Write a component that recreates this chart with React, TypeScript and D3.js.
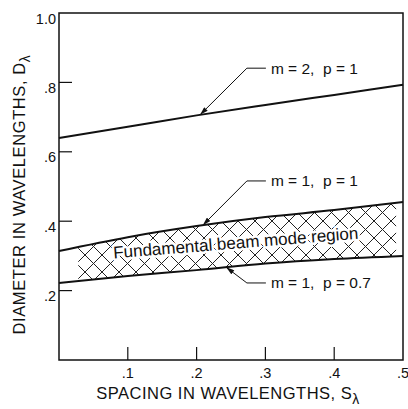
import React from 'react';
import * as d3 from 'd3';

// ---- data ----
const spacing = [0, 0.1, 0.2, 0.3, 0.4, 0.5];
const m2p1 = [0.64, 0.672, 0.705, 0.735, 0.764, 0.793];
const m1p1 = [0.314, 0.354, 0.386, 0.412, 0.432, 0.455];
const m1p07 = [0.222, 0.242, 0.259, 0.278, 0.291, 0.3];
const xTicks = [0.1, 0.2, 0.3, 0.4, 0.5];
const xTickLabels = ['.1', '.2', '.3', '.4', '.5'];
const yTicks = [0.2, 0.4, 0.6, 0.8, 1.0];
const yTickLabels = ['.2', '.4', '.6', '.8', '1.0'];
const regionStart = 0.028;
const regionEnd = 0.49;
const regionLabel = 'Fundamental beam mode region';
const curveNames = ['m2p1', 'm1p1', 'm1p07'];
const curveValues = [m2p1, m1p1, m1p07];
const annotationTexts = ['m = 2,  p = 1', 'm = 1,  p = 1', 'm = 1,  p = 0.7'];
const annotationTipS = [0.205, 0.209, 0.243];
const annotationLabelS = [0.308, 0.308, 0.308];
const annotationLabelD = [0.841, 0.516, 0.222];

const W = 408;
const H = 409;
const left = 59, right = 403, top = 13, bottom = 360;
const FONT = '"Liberation Sans", Arial, sans-serif';

export default function App() {
  const x = d3.scaleLinear().domain([0, 0.5]).range([left, right]);
  const y = d3.scaleLinear().domain([0, 1]).range([bottom, top]);

  const line = d3
    .line<number>()
    .x((_, i) => x(spacing[i]))
    .y((d) => y(d))
    .curve(d3.curveMonotoneX);

  const area = d3
    .area<number>()
    .x((_, i) => x(spacing[i]))
    .y0((_, i) => y(m1p07[i]))
    .y1((d) => y(d))
    .curve(d3.curveMonotoneX);

  const interp = (vals: number[], s: number) => {
    const f = d3.scaleLinear().domain(spacing).range(vals);
    return f(s);
  };

  const annotations = annotationTexts.map((t, i) => {
    const tipX = x(annotationTipS[i]);
    const tipY = y(interp(curveValues[i], annotationTipS[i]));
    const lx = x(annotationLabelS[i]);
    const ly = y(annotationLabelD[i]);
    return { t, tipX, tipY, lx, ly, key: curveNames[i] };
  });

  const xMid = (x(regionStart) + x(regionEnd)) / 2 - 1;
  const sMid = x.invert(xMid);
  const yMid = (y(interp(m1p1, sMid)) + y(interp(m1p07, sMid))) / 2;

  return (
    <svg
      width={W}
      height={H}
      style={{ position: 'absolute', left: 0, top: 0, background: '#fff' }}
      fontFamily={FONT}
    >
      <defs>
        <pattern id="hatch" patternUnits="userSpaceOnUse" width={17} height={17}>
          <path d="M0,0 L17,17 M17,0 L0,17" stroke="#222" strokeWidth={1} />
        </pattern>
        <clipPath id="regionClip">
          <rect x={x(regionStart)} y={top} width={x(regionEnd) - x(regionStart)} height={bottom - top} />
        </clipPath>
        <marker
          id="arrow"
          viewBox="0 0 10 6"
          refX={10}
          refY={3}
          markerWidth={9}
          markerHeight={5}
          markerUnits="userSpaceOnUse"
          orient="auto"
        >
          <path d="M0,0 L10,3 L0,6 z" fill="#111" />
        </marker>
      </defs>

      {/* hatched region */}
      <path d={area(m1p1) || ''} fill="url(#hatch)" clipPath="url(#regionClip)" />

      {/* frame */}
      <rect x={left} y={top} width={right - left} height={bottom - top} fill="none" stroke="#111" strokeWidth={1.5} />

      {/* ticks */}
      {yTicks.slice(0, 4).map((v) => (
        <line key={'yt' + v} x1={left} x2={left + 13} y1={y(v)} y2={y(v)} stroke="#111" strokeWidth={1.2} />
      ))}
      {xTicks.slice(0, 4).map((v) => (
        <line key={'xt' + v} x1={x(v)} x2={x(v)} y1={bottom} y2={bottom - 13} stroke="#111" strokeWidth={1.2} />
      ))}

      {/* tick labels */}
      {yTicks.map((v, i) => (
        <text key={'yl' + v} x={left - 3} y={y(v) + 10.5} textAnchor="end" fontSize={14.5} fill="#111">
          {yTickLabels[i]}
        </text>
      ))}
      {xTicks.map((v, i) => (
        <text key={'xl' + v} x={x(v)} y={bottom + 18} textAnchor="middle" fontSize={14.5} fill="#111">
          {xTickLabels[i]}
        </text>
      ))}

      {/* axis titles */}
      <text x={228} y={399} textAnchor="middle" fontSize={16.5} letterSpacing={0.5} fill="#111">
        SPACING IN WAVELENGTHS, S
        <tspan fontSize={14} dy={5}>λ</tspan>
      </text>
      <text
        transform={`translate(25,${(top + bottom) / 2 + 8}) rotate(-90)`}
        textAnchor="middle"
        fontSize={16.5}
        letterSpacing={0.6}
        fill="#111"
      >
        DIAMETER IN WAVELENGTHS, D
        <tspan fontSize={14} dy={5}>λ</tspan>
      </text>

      {/* curves */}
      {curveValues.map((vals, i) => (
        <path key={curveNames[i]} d={line(vals) || ''} fill="none" stroke="#111" strokeWidth={2} />
      ))}

      {/* region label */}
      <text
        transform={`translate(${xMid},${yMid + 5}) rotate(-4.6)`}
        textAnchor="middle"
        fontSize={17}
        fill="#111"
        stroke="#fff"
        strokeWidth={5}
        paintOrder="stroke"
        strokeLinejoin="round"
      >
        {regionLabel}
      </text>

      {/* annotations */}
      {annotations.map((a) => (
        <g key={a.key}>
          <path
            d={`M${a.lx - 5},${a.ly} L${a.lx - 24},${a.ly} L${a.tipX},${a.tipY}`}
            fill="none"
            stroke="#111"
            strokeWidth={1}
            markerEnd="url(#arrow)"
          />
          <text x={a.lx} y={a.ly + 5.5} fontSize={15.5} fill="#111" style={{ whiteSpace: 'pre' }}>
            {a.t}
          </text>
        </g>
      ))}
    </svg>
  );
}
